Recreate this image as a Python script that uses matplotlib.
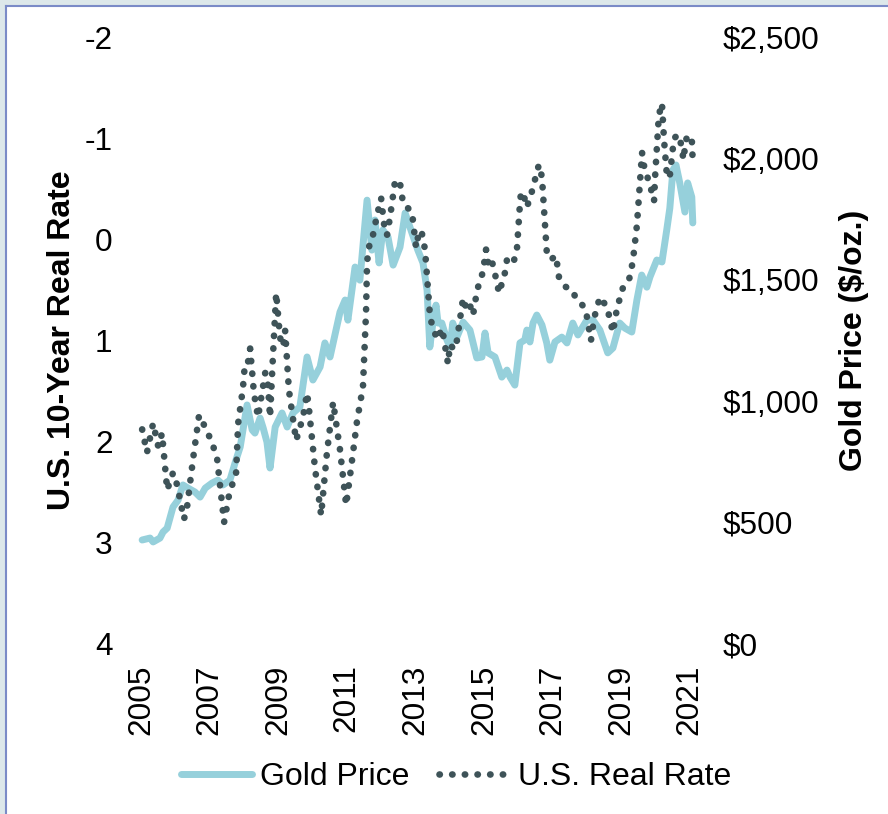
import matplotlib
matplotlib.use('Agg')
import matplotlib.pyplot as plt
from matplotlib.patches import Rectangle
from matplotlib.lines import Line2D
from matplotlib.ticker import FuncFormatter

plt.rcParams['font.family'] = ['Liberation Sans', 'DejaVu Sans']
plt.rcParams['axes.unicode_minus'] = False

# gold price, $/oz.
gold_years = [2005.03, 2005.26, 2005.35, 2005.55, 2005.64, 2005.76, 2005.93, 2006.08, 2006.22, 2006.37,
              2006.57, 2006.72, 2006.87, 2007.07, 2007.24, 2007.39, 2007.59, 2007.74, 2007.89, 2008.09,
              2008.24, 2008.32, 2008.47, 2008.56, 2008.67, 2008.76, 2008.91, 2009.11, 2009.26, 2009.43,
              2009.63, 2009.84, 2010.01, 2010.22, 2010.36, 2010.51, 2010.80, 2010.95, 2011.03, 2011.24,
              2011.38, 2011.59, 2011.73, 2011.82, 2011.94, 2012.05, 2012.20, 2012.35, 2012.55, 2012.70,
              2012.84, 2013.07, 2013.22, 2013.34, 2013.42, 2013.51, 2013.60, 2013.66, 2013.77, 2013.92,
              2014.01, 2014.09, 2014.21, 2014.39, 2014.59, 2014.79, 2014.94, 2015.03, 2015.12, 2015.32,
              2015.52, 2015.67, 2015.76, 2015.90, 2016.05, 2016.19, 2016.25, 2016.34, 2016.43, 2016.54,
              2016.69, 2016.83, 2016.92, 2017.07, 2017.27, 2017.42, 2017.59, 2017.74, 2018.00, 2018.18,
              2018.38, 2018.61, 2018.76, 2018.96, 2019.11, 2019.31, 2019.46, 2019.60, 2019.75, 2019.84,
              2020.04, 2020.19, 2020.33, 2020.42, 2020.51, 2020.60, 2020.71, 2020.86, 2020.94, 2021.06,
              2021.09]
gold_price = [427, 435, 419, 435, 460, 476, 563, 592, 654, 641,
              625, 604, 641, 662, 674, 654, 674, 745, 811, 984,
              881, 868, 930, 889, 831, 724, 893, 951, 893, 951,
              976, 1182, 1087, 1141, 1240, 1182, 1367, 1417, 1334, 1553,
              1499, 1829, 1623, 1747, 1570, 1706, 1677, 1561, 1635, 1776,
              1718, 1623, 1570, 1458, 1223, 1322, 1396, 1322, 1322, 1252,
              1223, 1322, 1264, 1326, 1293, 1178, 1182, 1281, 1199, 1182,
              1099, 1128, 1099, 1066, 1240, 1252, 1293, 1244, 1322, 1355,
              1314, 1240, 1169, 1244, 1264, 1240, 1322, 1273, 1334, 1334,
              1293, 1199, 1219, 1322, 1301, 1285, 1417, 1520, 1470, 1512,
              1582, 1574, 1706, 1796, 1953, 1974, 1900, 1780, 1900, 1842,
              1735]

# U.S. 10-year real rate, %
rate_years = [2005.03, 2005.17, 2005.35, 2005.50, 2005.61, 2005.76, 2005.93, 2006.05, 2006.25, 2006.34,
              2006.52, 2006.69, 2006.84, 2007.07, 2007.22, 2007.42, 2007.57, 2007.77, 2007.83, 2007.97,
              2008.03, 2008.12, 2008.18, 2008.29, 2008.41, 2008.62, 2008.70, 2008.76, 2008.85, 2008.94,
              2009.05, 2009.14, 2009.20, 2009.31, 2009.52, 2009.72, 2009.84, 2009.90, 2010.07, 2010.25,
              2010.42, 2010.60, 2010.80, 2010.98, 2011.12, 2011.30, 2011.47, 2011.56, 2011.59, 2011.68,
              2011.76, 2011.88, 2012.00, 2012.08, 2012.17, 2012.26, 2012.41, 2012.55, 2012.64, 2012.90,
              2013.02, 2013.11, 2013.19, 2013.28, 2013.43, 2013.63, 2013.78, 2013.95, 2014.01, 2014.13,
              2014.21, 2014.39, 2014.50, 2014.59, 2014.68, 2014.80, 2014.97, 2015.06, 2015.12, 2015.20,
              2015.29, 2015.44, 2015.61, 2015.67, 2015.85, 2015.96, 2016.05, 2016.08, 2016.14, 2016.25,
              2016.37, 2016.60, 2016.69, 2016.83, 2016.95, 2017.10, 2017.19, 2017.39, 2017.57, 2017.68,
              2017.83, 2017.97, 2018.12, 2018.21, 2018.38, 2018.59, 2018.76, 2018.88, 2019.05, 2019.23,
              2019.34, 2019.46, 2019.61, 2019.66, 2019.87, 2019.96, 2019.99, 2020.04, 2020.10, 2020.19,
              2020.25, 2020.34, 2020.42, 2020.54, 2020.66, 2020.78, 2020.81, 2020.92, 2021.06, 2021.09]
real_rate = [1.88, 2.11, 1.82, 2.05, 1.92, 2.48, 2.31, 2.43, 2.77, 2.65,
             2.16, 1.74, 1.84, 2.01, 2.18, 2.80, 2.52, 2.31, 1.82, 1.47,
             1.22, 1.21, 1.08, 1.52, 1.76, 1.32, 1.44, 1.76, 1.12, 0.53,
             0.97, 1.06, 0.90, 1.49, 1.99, 1.76, 1.52, 1.69, 2.26, 2.73,
             2.11, 1.61, 2.08, 2.63, 2.27, 1.79, 1.46, 0.72, 0.22, 0.00,
             -0.04, -0.24, -0.41, -0.16, -0.04, -0.22, -0.59, -0.56, -0.36, -0.27,
             0.08, -0.09, -0.06, 0.10, 0.78, 0.99, 0.88, 1.23, 1.04, 1.09,
             1.00, 0.58, 0.70, 0.65, 0.75, 0.50, 0.32, 0.10, 0.23, 0.18,
             0.29, 0.53, 0.33, 0.20, 0.24, 0.10, -0.36, -0.47, -0.46, -0.32,
             -0.44, -0.74, -0.62, 0.12, 0.20, 0.16, 0.38, 0.47, 0.50, 0.58,
             0.63, 0.70, 1.00, 0.78, 0.57, 0.67, 0.92, 0.68, 0.48, 0.40,
             0.22, -0.14, -0.86, -0.74, -0.50, -0.38, -0.62, -0.89, -1.23, -1.35,
             -0.99, -0.61, -0.63, -1.00, -1.04, -0.91, -0.79, -1.03, -1.00, -0.76]

year_ticks = [2005, 2007, 2009, 2011, 2013, 2015, 2017, 2019, 2021]
rate_ticks = [-2, -1, 0, 1, 2, 3, 4]
gold_ticks = [0, 500, 1000, 1500, 2000, 2500]

gold_color = '#96d0db'
rate_color = '#3e5358'
fs = 22.7
fs_lab = 23

fig = plt.figure(figsize=(8.88, 8.14), dpi=100)
fig.patch.set_facecolor('#dde8ea')
fig.patches.append(Rectangle((6 / 888, 0), 1, 1 - 6 / 814, transform=fig.transFigure,
                             facecolor='white', edgecolor='none', zorder=-10))
fig.lines.append(Line2D([5.5 / 888, 5.5 / 888], [0, 1 - 5.5 / 814], transform=fig.transFigure,
                        color='#7b8bc7', lw=1.5))
fig.lines.append(Line2D([5.5 / 888, 1], [1 - 5.5 / 814, 1 - 5.5 / 814], transform=fig.transFigure,
                        color='#7b8bc7', lw=1.5))

ax = fig.add_axes([125 / 888, 1 - 643.5 / 814, 587 / 888, 606 / 814])
ax2 = ax.twinx()

ax2.plot(gold_years, gold_price, color=gold_color, lw=5, solid_joinstyle='round',
         solid_capstyle='round', label='Gold Price')
ax.plot(rate_years, real_rate, color=rate_color, lw=4.8, linestyle=(0, (0.05, 1.85)),
        dash_capstyle='round', label='U.S. Real Rate')

ax.set_zorder(ax2.get_zorder() + 1)
ax.patch.set_visible(False)

ax.set_xlim(2004.53, 2021.65)
ax.set_ylim(4, -2)
ax2.set_ylim(0, 2500)
ax.set_xticks(year_ticks)
ax.set_xticklabels([str(y) for y in year_ticks], rotation=90)
ax.set_yticks(rate_ticks)
ax2.set_yticks(gold_ticks)
ax2.yaxis.set_major_formatter(FuncFormatter(lambda v, p: '${:,.0f}'.format(v)))

for a in (ax, ax2):
    for s in a.spines.values():
        s.set_visible(False)
    a.tick_params(length=0, labelsize=fs)
ax.tick_params(axis='y', pad=9)
ax.tick_params(axis='x', pad=15)
ax2.tick_params(axis='y', pad=7.5)

ax.set_ylabel('U.S. 10-Year Real Rate', fontsize=fs_lab, fontweight='bold', labelpad=5)
ax2.set_ylabel('Gold Price ($/oz.)', fontsize=fs_lab, fontweight='bold', labelpad=14)

h1, l1 = ax2.get_legend_handles_labels()
h2, l2 = ax.get_legend_handles_labels()
fig.legend(h1 + h2, l1 + l2, loc='center', bbox_to_anchor=(456 / 888, 1 - 777 / 814),
           ncol=2, frameon=False, fontsize=fs_lab, handlelength=2.2, handletextpad=0.25,
           columnspacing=0.95)

fig.savefig('out.png', dpi=100, facecolor=fig.get_facecolor())
